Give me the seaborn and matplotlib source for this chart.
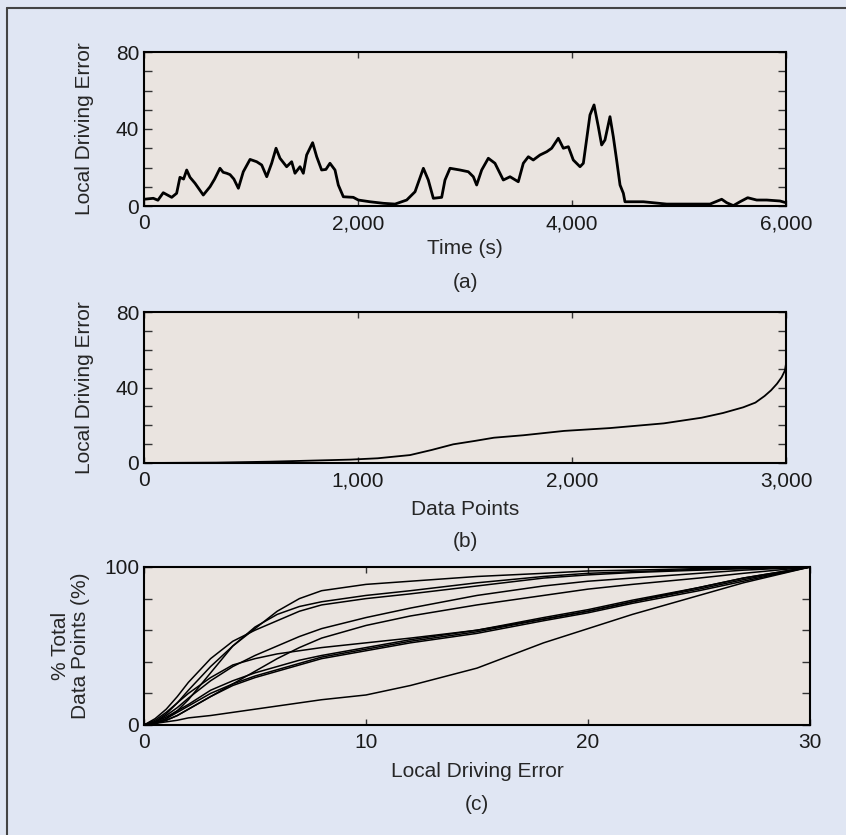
import matplotlib.pyplot as plt
import matplotlib.ticker as mticker
from matplotlib.lines import Line2D
import pandas as pd
import seaborn as sns

# %% data

# (a) local driving error over one drive
time_s = [0, 87, 130, 180, 259, 305, 336, 370, 399, 430, 477, 554, 617, 660, 710,
          740, 773, 804, 840, 882, 928, 991, 1053, 1100, 1147, 1193, 1234, 1271,
          1333, 1380, 1411, 1458, 1489, 1520, 1576, 1614, 1660, 1700, 1738, 1785,
          1816, 1863, 1956, 2003, 2112, 2237, 2346, 2455, 2533, 2611, 2657, 2704,
          2782, 2813, 2860, 2953, 3031, 3078, 3109, 3156, 3218, 3280, 3358, 3421,
          3498, 3545, 3592, 3638, 3701, 3764, 3810, 3872, 3919, 3966, 4012, 4075,
          4106, 4168, 4206, 4246, 4277, 4308, 4355, 4386, 4417, 4449, 4480, 4495,
          4667, 4885, 5290, 5399, 5446, 5508, 5570, 5642, 5726, 5820, 5944, 6000]
error_a = [3.5, 4, 3, 6.9, 4.5, 6.6, 14.9, 14, 18.7, 14.9, 11.8, 5.7, 10, 14, 19.6,
           17.5, 17, 16.3, 14, 9.2, 17.8, 24.2, 23, 21.3, 15.2, 22.2, 30, 24.8,
           20.4, 23, 17, 20.4, 17, 26.5, 32.9, 25.6, 18.7, 19, 22.2, 18.7,
           10.9, 4.8, 4.5, 3.1, 2.2, 1.4, 1, 3.1, 7.4, 19.6, 13.5, 4,
           4.5, 13.5, 19.6, 18.7, 17.8, 15.2, 10.9, 18.7, 24.8, 22.2, 13.5, 15.2,
           12.6, 22.2, 25.6, 23.9, 26.5, 28.2, 30, 35.2, 30, 30.8, 23.9, 20.4,
           22.2, 47.3, 52.5, 41.2, 31.7, 34.3, 46.4, 36, 23.9, 10.9, 6.6, 2.2,
           2.2, 1, 1, 3.5, 1.7, 0.2, 2.2, 4.3, 3.1, 3.1, 2.6, 1.7]

# (b) same errors, sorted
data_points = [0, 336, 588, 966, 1092, 1243, 1344, 1445, 1546, 1635, 1773, 1963,
               2177, 2429, 2606, 2706, 2800, 2857, 2900, 2930, 2958, 2980, 2995, 3000]
error_b = [0, 0.2, 0.7, 1.8, 2.5, 4.2, 6.9, 9.9, 11.7, 13.4, 14.7, 17,
           18.5, 21, 24, 26.5, 29.5, 32, 35.5, 38.5, 42, 45.5, 49, 52.5]

# (c) cumulative share of data points, one curve per drive
err_grid = [0, 0.5, 1, 1.5, 2, 3, 4, 5, 6, 7, 8, 10, 12, 15, 18, 20, 22, 25, 27, 30]
run_1 = [0, 2, 7, 14, 22, 37, 50, 61, 72, 80, 85, 89, 91, 94, 96, 97.5, 98, 99, 99.5, 100]
run_2 = [0, 1, 4, 9, 16, 33, 50, 62, 70, 75, 78, 82, 85, 90, 94, 96, 97, 98.5, 99, 100]
run_3 = [0, 4, 10, 18, 27, 42, 53, 60, 66, 72, 76, 80, 83, 88, 93, 95, 96.5, 98, 99, 100]
run_4 = [0, 2, 6, 11, 17, 28, 37, 44, 50, 56, 61, 68, 74, 82, 88, 91, 93, 96, 98, 100]
run_5 = [0, 1, 3, 6, 10, 18, 26, 34, 42, 49, 55, 63, 69, 76, 82, 86, 89, 93, 96, 100]
run_6 = [0, 3, 8, 14, 20, 30, 38, 42, 45, 47, 49, 52, 55, 60, 67, 72, 78, 87, 93, 100]
run_7 = [0, 2, 5, 9, 13, 22, 28, 33, 37, 41, 44, 49, 54, 60, 68, 73, 79, 87, 93, 100]
run_8 = [0, 1.5, 4, 8, 12, 20, 26, 31, 35, 39, 43, 48, 53, 59, 67, 72, 78, 86, 92, 100]
run_9 = [0, 1, 3, 6, 10, 18, 25, 30, 34, 38, 42, 47, 52, 58, 66, 71, 77, 85, 91, 100]
run_10 = [0, 1, 2, 3, 4.5, 6, 8, 10, 12, 14, 16, 19, 25, 36, 52, 61, 70, 82, 90, 100]
runs = [run_1, run_2, run_3, run_4, run_5, run_6, run_7, run_8, run_9, run_10]

df_a = pd.DataFrame({"time": time_s, "error": error_a})
df_b = pd.DataFrame({"points": data_points, "error": error_b})
df_c = pd.concat(
    [pd.DataFrame({"err": err_grid, "pct": r, "run": i}) for i, r in enumerate(runs)]
)

# %% style
sns.set_style("ticks")
bg = "#e0e6f3"
face = "#eae4e0"
regular = ["Liberation Sans", "DejaVu Sans"]
plt.rcParams["font.family"] = regular
fs = 15

W, H = 846, 835
fig = plt.figure(figsize=(W / 100, H / 100), dpi=100, facecolor=bg)


def add_ax(left, top, right, bottom):
    return fig.add_axes([left / W, 1 - bottom / H, (right - left) / W, (bottom - top) / H])


def style(ax, minor):
    ax.set_facecolor(face)
    for s in ax.spines.values():
        s.set_color("black")
        s.set_linewidth(1.5)
    ax.yaxis.set_minor_locator(mticker.MultipleLocator(minor))
    ax.tick_params(which="both", direction="in", top=True, right=True,
                   color="#333333", width=1)
    ax.tick_params(axis="y", which="both", length=6)
    ax.tick_params(axis="x", length=4, pad=6)
    ax.tick_params(labelsize=fs, labelcolor="#1a1a1a")


def labels(ax, xlab, ylab, tag, x_y, tag_y, ylab_x):
    ax.set_xlabel(xlab, fontsize=fs, va="center")
    ax.xaxis.set_label_coords(0.5, x_y)
    ax.set_ylabel(ylab, fontsize=fs, va="center", linespacing=1.1)
    ax.yaxis.set_label_coords(ylab_x, 0.5)
    ax.text(0.5, tag_y, tag, transform=ax.transAxes, ha="center", va="center",
            fontsize=fs)


comma = mticker.FuncFormatter(lambda v, p: f"{int(v):,}")

# %% (a)
ax_a = add_ax(144, 52, 786, 206)
sns.lineplot(data=df_a, x="time", y="error", color="black", lw=2, ax=ax_a)
ax_a.set_xlim(0, 6000)
ax_a.set_ylim(0, 80)
ax_a.set_xticks([0, 2000, 4000, 6000])
ax_a.set_yticks([0, 40, 80])
ax_a.xaxis.set_major_formatter(comma)
style(ax_a, 10)
labels(ax_a, "Time (s)", "Local Driving Error", "(a)", -0.279, -0.494, -0.092)

# %% (b)
ax_b = add_ax(144, 312, 786, 463)
sns.lineplot(data=df_b, x="points", y="error", color="black", lw=1.3, ax=ax_b)
ax_b.set_xlim(0, 3000)
ax_b.set_ylim(0, 80)
ax_b.set_xticks([0, 1000, 2000, 3000])
ax_b.set_yticks([0, 40, 80])
ax_b.xaxis.set_major_formatter(comma)
style(ax_b, 10)
labels(ax_b, "Data Points", "Local Driving Error", "(b)", -0.305, -0.517, -0.092)

# %% (c)
ax_c = add_ax(144, 567, 810, 725)
sns.lineplot(data=df_c, x="err", y="pct", units="run", estimator=None,
             color="black", lw=1.1, ax=ax_c)
ax_c.set_xlim(0, 30)
ax_c.set_ylim(0, 100)
ax_c.set_xticks([0, 10, 20, 30])
ax_c.set_yticks([0, 100])
style(ax_c, 20)
labels(ax_c, "Local Driving Error", "% Total\nData Points (%)", "(c)",
       -0.297, -0.506, -0.110)

# frame on the top and left edge
fig.add_artist(Line2D([7 / W, 1], [1 - 8 / H, 1 - 8 / H], transform=fig.transFigure,
                      color="#444444", lw=1.5))
fig.add_artist(Line2D([7 / W, 7 / W], [0, 1 - 8 / H], transform=fig.transFigure,
                      color="#444444", lw=1.5))

fig.savefig("out.png", dpi=100, facecolor=bg)
